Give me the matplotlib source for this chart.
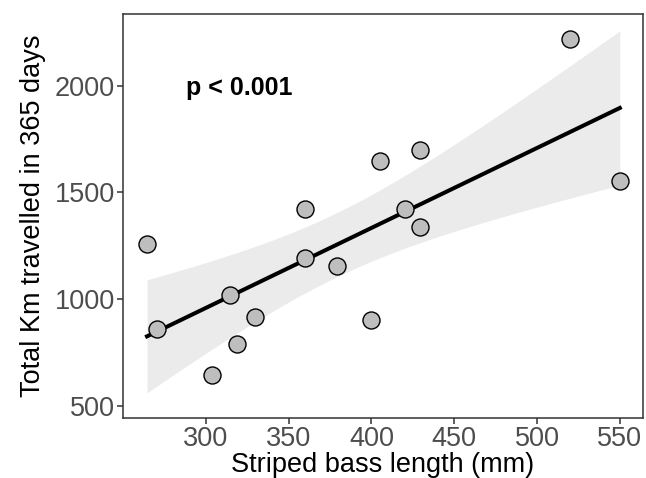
import numpy as np
import matplotlib.pyplot as plt

plt.rcParams['font.family'] = ['Liberation Sans', 'DejaVu Sans']

# striped bass length (mm) and total km travelled in 365 days
length_mm = [264.5, 270.5, 304, 314.5, 319, 329.5, 359.6, 359.6,
             379.5, 400, 405, 420, 429.5, 429.5, 520, 550]
km_travelled = [1258, 859, 644, 1019, 789, 916, 1422, 1192,
                1155, 902, 1647, 1422, 1698, 1337, 2219, 1553]
x_ticks = [300, 350, 400, 450, 500, 550]
y_ticks = [500, 1000, 1500, 2000]

x = np.array(length_mm)
y = np.array(km_travelled)

# linear fit with 95% confidence band
slope, intercept = np.polyfit(x, y, 1)
n = len(x)
resid = y - (slope * x + intercept)
s = np.sqrt(np.sum(resid ** 2) / (n - 2))
t_val = 2.145  # t(0.975, df=14)
xs = np.linspace(x.min(), x.max(), 100)
ys = slope * xs + intercept
se = s * np.sqrt(1 / n + (xs - x.mean()) ** 2 / np.sum((x - x.mean()) ** 2))

fig = plt.figure(figsize=(6.46, 4.78), dpi=100)
ax = fig.add_axes([123 / 646, 60 / 478, 520 / 646, 404 / 478])

ax.fill_between(xs, ys - t_val * se, ys + t_val * se, color='#ebebeb', lw=0, zorder=1)
ax.plot(xs, ys, color='black', lw=2.9, zorder=2)
ax.scatter(x, y, s=150, facecolor='#bebebe', edgecolor='black', linewidth=1.0, zorder=3)

ax.text(288, 1990, 'p < 0.001', fontsize=18, fontweight='bold', va='center')

ax.set_xlim(250, 564)
ax.set_ylim(442, 2336)
ax.set_xticks(x_ticks)
ax.set_yticks(y_ticks)
ax.tick_params(labelsize=19.5, colors='#333333', labelcolor='#4d4d4d',
               length=4, width=1.1, pad=2)
for sp in ax.spines.values():
    sp.set_color('#333333')
    sp.set_linewidth(1.1)

ax.set_xlabel('Striped bass length (mm)', fontsize=19.5, labelpad=0)
ax.set_ylabel('Total Km travelled in 365 days', fontsize=19.5, labelpad=6)

fig.savefig('out.png', dpi=100)
